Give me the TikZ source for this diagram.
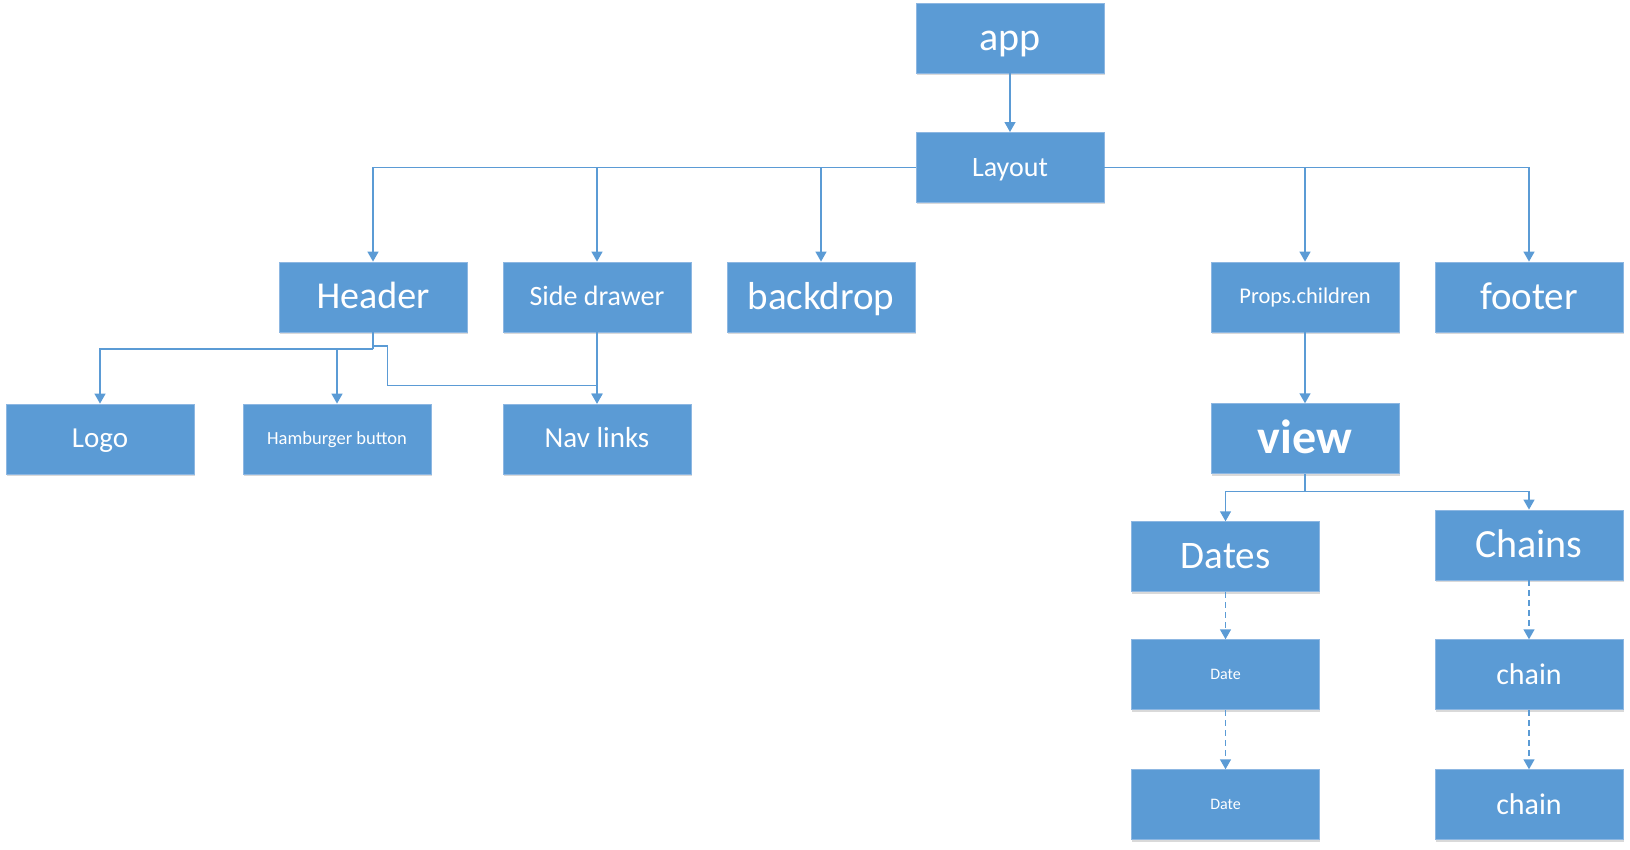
\documentclass[tikz,border=0pt]{standalone}
\usepackage{fontspec}
\setmainfont{Carlito}
\usetikzlibrary{arrows.meta,shadows}
\definecolor{boxblue}{HTML}{5B9BD5}
\definecolor{boxedge}{HTML}{8DB7E2}
\definecolor{linkblue}{HTML}{5B9BD5}
\tikzset{
  blk/.style={fill=boxblue, draw=boxedge, line width=0.8pt, text=white,
    minimum width=188pt, minimum height=70pt, inner sep=0pt, anchor=center,
    drop shadow={shadow xshift=0.6pt, shadow yshift=-2pt, opacity=0.15, fill=black}},
  fs/.style={font=\fontsize{#1}{#1}\selectfont, text height=0.8*#1 pt, text depth=0.18*#1 pt},
  fsb/.style={font=\fontsize{#1}{#1}\selectfont\bfseries, text height=0.8*#1 pt, text depth=0.18*#1 pt},
  link/.style={draw=linkblue, line width=1.4pt, -{Triangle[length=10pt,width=11pt]}},
  plain/.style={draw=linkblue, line width=1.4pt},
  dlink/.style={link, dash pattern=on 6pt off 4pt},
}
\begin{document}
\begin{tikzpicture}[x=1pt,y=-1pt]
\useasboundingbox (0,0) rectangle (1630,849);
% nodes
\node[blk, fs=40] (app) at (1010,38) {app};
\node[blk, fs=28] (layout) at (1010,167.4) {Layout};
\node[blk, fs=38] (header) at (373,297) {Header};
\node[blk, fs=28] (side) at (597,297) {Side drawer};
\node[blk, fs=39] (backdrop) at (821,297) {backdrop};
\node[blk, fs=22.5] (props) at (1305,297) {Props.children};
\node[blk, fs=39] (footer) at (1529,297) {footer};
\node[blk, fs=29] (logo) at (100,439) {Logo};
\node[blk, fs=18.5] (ham) at (337,439) {Hamburger button};
\node[blk, fs=29] (nav) at (597,439) {Nav links};
\node[blk, fsb=48] (view) at (1305,438.7) {view};
\node[blk, fs=39] (dates) at (1225.5,556.7) {Dates};
\node[blk, fs=40] (chains) at (1529,545) {Chains};
\node[blk, fs=16] (date1) at (1225.5,674.7) {Date};
\node[blk, fs=16] (date2) at (1225.5,804.7) {Date};
\node[blk, fs=30] (chain1) at (1529,674.7) {chain};
\node[blk, fs=30] (chain2) at (1529,804.7) {chain};
% elbow coordinates
\coordinate (hj) at (373,349);
\coordinate (hk) at (373,346);
\coordinate (hk2) at (387.7,346);
\coordinate (hk3) at (387.7,385.7);
\coordinate (vj) at (1305,491.7);
% connectors
\draw[link] (app) -- (layout);
\draw[link] (layout.west) -| (header.north);
\draw[link] (layout.west) -| (side.north);
\draw[link] (layout.west) -| (backdrop.north);
\draw[link] (layout.east) -| (props.north);
\draw[link] (layout.east) -| (footer.north);
\draw[plain] (header.south) -- (hj);
\draw[link] (hj) -| (logo.north);
\draw[link] (hj) -| (ham.north);
\draw[link] (hk) -- (hk2) -- (hk3) -| (nav.north);
\draw[link] (side) -- (nav);
\draw[link] (props) -- (view);
\draw[plain] (view.south) -- (vj);
\draw[link] (vj) -| (dates.north);
\draw[link] (vj) -| (chains.north);
\draw[dlink] (dates) -- (date1);
\draw[dlink] (date1) -- (date2);
\draw[dlink] (chains) -- (chain1);
\draw[dlink] (chain1) -- (chain2);
\end{tikzpicture}
\end{document}
